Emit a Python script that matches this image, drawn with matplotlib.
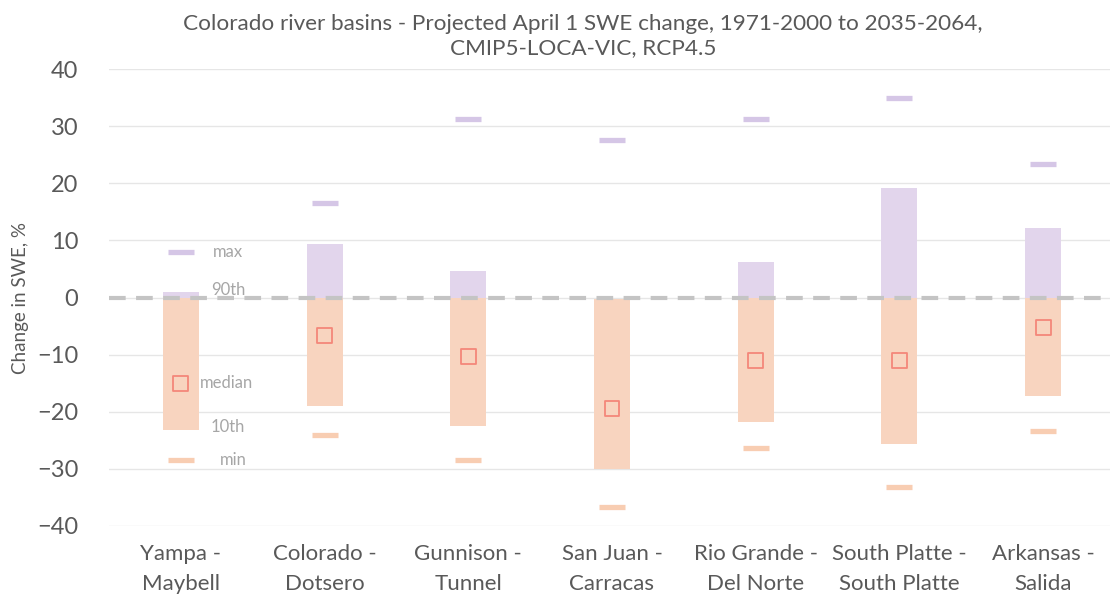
import matplotlib
matplotlib.use("Agg")
import matplotlib.pyplot as plt
import numpy as np

categories = ["Yampa -\nMaybell", "Colorado -\nDotsero", "Gunnison -\nTunnel", "San Juan -\nCarracas",
              "Rio Grande -\nDel Norte", "South Platte -\nSouth Platte", "Arkansas -\nSalida"]
p_max = [8.0, 16.5, 31.3, 27.6, 31.3, 35.0, 23.4]
p90 = [1.0, 9.4, 4.6, -0.2, 6.2, 19.2, 12.2]
median = [-15.0, -6.6, -10.4, -19.4, -11.0, -11.1, -5.3]
p10 = [-23.2, -19.0, -22.5, -30.0, -21.8, -25.6, -17.2]
p_min = [-28.5, -24.1, -28.5, -36.7, -26.4, -33.2, -23.4]
label_names = ["max", "90th", "median", "10th", "min"]

plt.rcParams['font.family'] = ['Lato', 'DejaVu Sans']
fig = plt.figure(figsize=(11.1, 6.02), dpi=100)
W, H = 1110, 602
ax = fig.add_axes([109 / W, 1 - 526 / H, (1115 - 109) / W, (526 - 69) / H])

x = np.arange(len(categories))
p90a = np.array(p90)
p10a = np.array(p10)
purple = "#e2d5ec"
orange = "#f8d4bf"
pos = np.maximum(p90a, 0)
top_neg = np.minimum(p90a, 0)
bw = 0.25
ax.bar(x, pos, bottom=0, width=bw, color=purple, zorder=2)
ax.bar(x, p10a - top_neg, bottom=top_neg, width=bw, color=orange, zorder=2)
ax.scatter(x, p_max, marker="_", s=330, linewidths=3.8, color="#d5c6e6", zorder=3)
ax.scatter(x, p_min, marker="_", s=330, linewidths=3.8, color="#f8cdb2", zorder=3)
ax.scatter(x, median, marker="s", s=115, facecolors="none", edgecolors="#f4877a", linewidths=1.3, zorder=4)
ax.axhline(0, color="#c4c4c4", lw=3, dashes=(4, 2.5), zorder=3)

# data labels next to the first series
lab_vals = [p_max[0], p90[0], median[0], p10[0], p_min[0]]
offs = [0.22, 0.21, 0.13, 0.21, 0.27]
dy = [0, 0.3, 0, 0.5, 0]
for n, v, o, d in zip(label_names, lab_vals, offs, dy):
    ax.text(x[0] + o, v + d, n, color="#a6a6a6", fontsize=12, va="center", ha="left", zorder=5)

ax.set_xlim(-0.5, len(categories) - 0.5)
ax.set_ylim(-40, 40)
ax.set_yticks(np.arange(-40, 41, 10))
ax.grid(axis="y", color="#e6e6e6", lw=1, zorder=0)
ax.set_axisbelow(True)
for s in ax.spines.values():
    s.set_visible(False)
ax.tick_params(axis="both", length=0)
ax.tick_params(axis="y", labelsize=17, labelcolor="#595959", pad=22)
ax.set_xticks(x)
ax.set_xticklabels(categories, fontsize=16, color="#595959", linespacing=1.65)
ax.tick_params(axis="x", pad=13)
ax.set_ylabel("Change in SWE, %", fontsize=13.5, color="#595959", labelpad=6)
fig.text(583 / W, 1 - 36 / H,
         "Colorado river basins - Projected April 1 SWE change, 1971-2000 to 2035-2064,\nCMIP5-LOCA-VIC, RCP4.5",
         ha="center", va="center", fontsize=16.2, color="#595959", linespacing=1.25)
fig.savefig("out.png", dpi=100)
